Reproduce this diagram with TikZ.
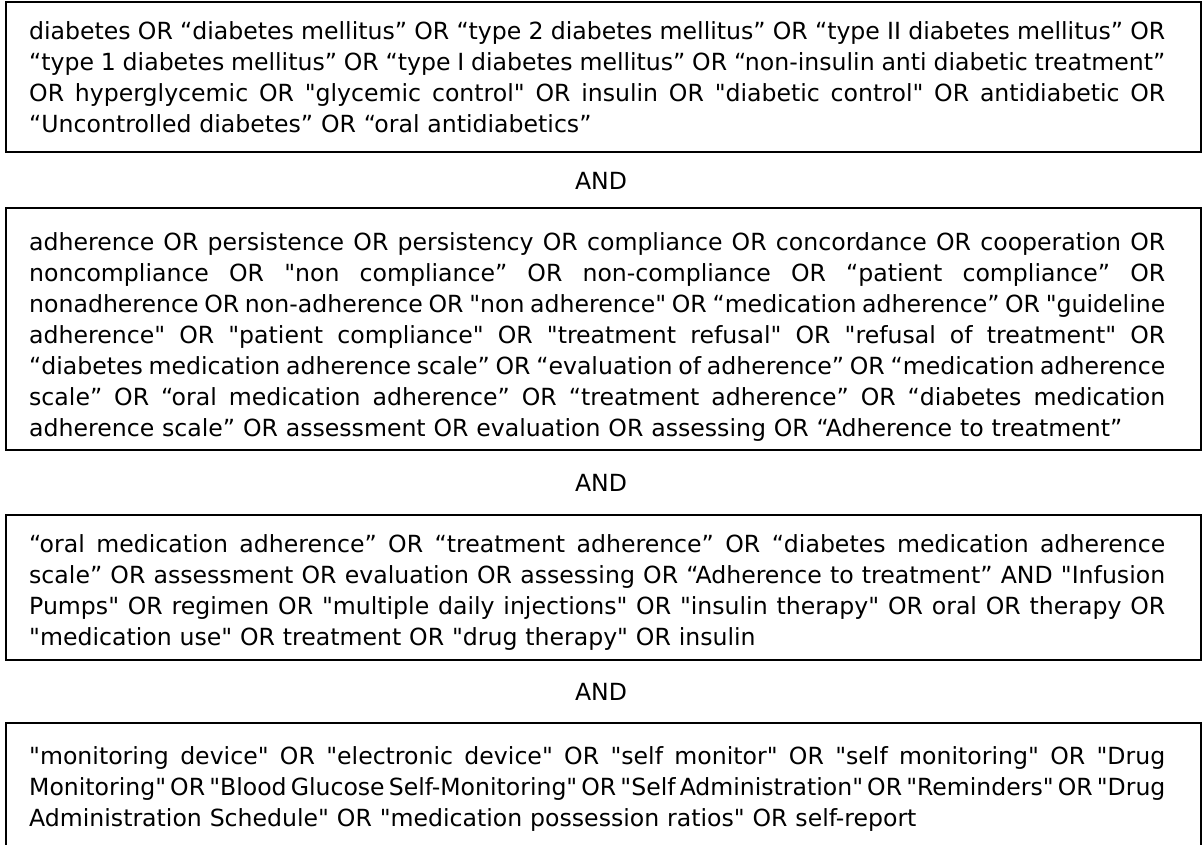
\documentclass[tikz,border=0pt]{standalone}
\usepackage{fontspec}
\usepackage{graphicx}
\newfontfamily\bodyfont{DejaVu Sans}
\newlength{\tw}
\setlength{\tw}{1136pt}
\newsavebox{\linebox}
\newcommand{\fstrut}{\rule{0pt}{22pt}}
\newcommand{\jl}[1]{\leavevmode
  \sbox{\linebox}{\spaceskip=0.55\fontdimen2\font\relax #1}%
  \ifdim\wd\linebox>\tw
    \resizebox{\tw}{\height}{\usebox{\linebox}}%
  \else
    \hbox to \tw{\spaceskip=\fontdimen2\font plus 1fil minus 0.45\fontdimen2\font\relax #1}%
  \fi}
\newcommand{\lastl}[1]{\leavevmode\hbox to \tw{#1\hfil}}
\tikzset{
  qbox/.style={draw=black, line width=1.4pt},
  qtext/.style={anchor=north west, inner sep=0pt, text width=1136pt, align=left,
    font={\bodyfont\fontsize{23.6}{31}\selectfont}},
  andlabel/.style={inner sep=0pt, font={\bodyfont\fontsize{23.6}{28}\selectfont}}
}
\begin{document}
\begin{tikzpicture}[x=1pt,y=-1pt]
\useasboundingbox (0,0) rectangle (1203,845);
\fill[white] (0,0) rectangle (1203,845);
\begin{scope}
\clip (0,0) rectangle (1203,845);
\draw[qbox] (6,2) rectangle (1201,152);
\draw[qbox] (6,208) rectangle (1201,450);
\draw[qbox] (6,515) rectangle (1201,660);
\draw[qbox] (6,723) rectangle (1201,860);
\end{scope}

% first baseline 39.5
\node[qtext] (t1) at (29,17.5) {%
\jl{\fstrut diabetes OR “diabetes mellitus” OR “type 2 diabetes mellitus” OR “type II diabetes mellitus” OR}\\
\jl{“type 1 diabetes mellitus” OR “type I diabetes mellitus” OR “non-insulin anti diabetic treatment”}\\
\jl{OR hyperglycemic OR "glycemic control" OR insulin OR "diabetic control" OR antidiabetic OR}\\
\lastl{“Uncontrolled diabetes” OR “oral antidiabetics”}};

\node[andlabel] (a1) at (601,181) {AND};

% first baseline 250
\node[qtext] (t2) at (29,228) {%
\jl{\fstrut adherence OR persistence OR persistency OR compliance OR concordance OR cooperation OR}\\
\jl{noncompliance OR "non compliance” OR non-compliance OR “patient compliance” OR}\\
\jl{nonadherence OR non-adherence OR "non adherence" OR “medication adherence” OR "guideline}\\
\jl{adherence" OR "patient compliance" OR "treatment refusal" OR "refusal of treatment" OR}\\
\jl{“diabetes medication adherence scale” OR “evaluation of adherence” OR “medication adherence}\\
\jl{scale” OR “oral medication adherence” OR “treatment adherence” OR “diabetes medication}\\
\lastl{adherence scale” OR assessment OR evaluation OR assessing OR “Adherence to treatment”}};

\node[andlabel] (a2) at (601,483) {AND};

% first baseline 552.5
\node[qtext] (t3) at (29,530.5) {%
\jl{\fstrut “oral medication adherence” OR “treatment adherence” OR “diabetes medication adherence}\\
\jl{scale” OR assessment OR evaluation OR assessing OR “Adherence to treatment” AND "Infusion}\\
\jl{Pumps" OR regimen OR "multiple daily injections" OR "insulin therapy" OR oral OR therapy OR}\\
\lastl{"medication use" OR treatment OR "drug therapy" OR insulin}};

\node[andlabel] (a3) at (601,692) {AND};

% first baseline 764
\node[qtext] (t4) at (29,742) {%
\jl{\fstrut "monitoring device" OR "electronic device" OR "self monitor" OR "self monitoring" OR "Drug}\\
\jl{Monitoring" OR "Blood Glucose Self-Monitoring" OR "Self Administration" OR "Reminders" OR "Drug}\\
\lastl{Administration Schedule" OR "medication possession ratios" OR self-report}};
\end{tikzpicture}
\end{document}
